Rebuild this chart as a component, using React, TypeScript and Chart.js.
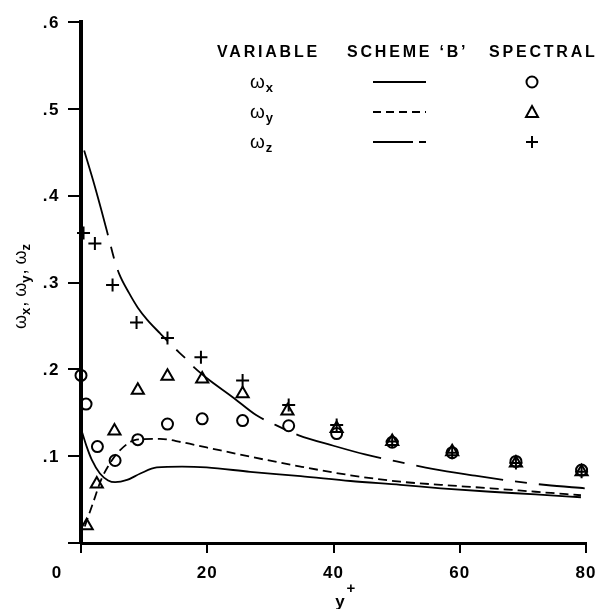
import React, { useEffect, useRef } from 'react';
import { Chart, registerables } from 'chart.js';
Chart.register(...registerables);

// ---- Data ----
const SCHEME_WX_YPLUS = [0.2, 0.9, 1.7, 3.0, 4.3, 5.4, 7.3, 9.4, 12.0, 16, 19.9, 26.8, 34.8, 42.7, 50.6, 57, 64.9, 72, 79.2];
const SCHEME_WX = [0.127, 0.111, 0.096, 0.080, 0.072, 0.070, 0.0726, 0.080, 0.087, 0.088, 0.087, 0.082, 0.077, 0.0714, 0.067, 0.063, 0.059, 0.056, 0.0527];

const SCHEME_WY_YPLUS = [0.6, 1.9, 3.2, 4.6, 6.2, 8.8, 12.5, 16, 19.9, 26.8, 34.8, 42.7, 50.6, 57, 64.9, 72, 79.2];
const SCHEME_WY = [0.019, 0.046, 0.073, 0.092, 0.107, 0.119, 0.120, 0.116, 0.110, 0.0994, 0.088, 0.078, 0.0706, 0.067, 0.063, 0.059, 0.055];

const SCHEME_WZ_YPLUS = [0.5, 1.9, 3.2, 4.4, 5.3, 6.1, 7.6, 9.0, 10.5, 12.5, 14.6, 16.5, 18.1, 19.9, 24.2, 27.8, 30.8, 34.5, 40, 45, 50, 55.9, 62, 69.7, 73.7, 79.8];
const SCHEME_WZ = [0.452, 0.418, 0.384, 0.351, 0.326, 0.309, 0.288, 0.271, 0.257, 0.2416, 0.226, 0.213, 0.201, 0.190, 0.167, 0.147, 0.136, 0.124, 0.112, 0.102, 0.094, 0.085, 0.078, 0.070, 0.0668, 0.063];

const SPECTRAL_WX_YPLUS = [0, 0.8, 2.6, 5.4, 9.0, 13.7, 19.2, 25.6, 32.9, 40.5, 49.3, 58.8, 68.9, 79.3];
const SPECTRAL_WX = [0.193, 0.160, 0.111, 0.095, 0.119, 0.137, 0.143, 0.141, 0.135, 0.126, 0.116, 0.104, 0.094, 0.084];

const SPECTRAL_WY_YPLUS = [0.9, 2.5, 5.3, 9.0, 13.7, 19.2, 25.6, 32.7, 40.5, 49.3, 58.8, 68.9, 79.3];
const SPECTRAL_WY = [0.020, 0.068, 0.129, 0.176, 0.192, 0.189, 0.172, 0.152, 0.132, 0.117, 0.105, 0.092, 0.082];

const SPECTRAL_WZ_YPLUS = [0.4, 2.2, 5.0, 8.8, 13.7, 19.0, 25.6, 32.9, 40.5, 49.3, 58.8, 68.9, 79.3];
const SPECTRAL_WZ = [0.357, 0.345, 0.297, 0.254, 0.236, 0.214, 0.187, 0.159, 0.136, 0.117, 0.104, 0.092, 0.082];

const X_TICKS = [0, 20, 40, 60, 80];
const X_TICK_LABELS = ['0', '20', '40', '60', '80'];
const Y_TICKS = [0.1, 0.2, 0.3, 0.4, 0.5, 0.6];
const Y_TICK_LABELS = ['.1', '.2', '.3', '.4', '.5', '.6'];
const LEGEND_HEADERS = ['VARIABLE', 'SCHEME \u2018B\u2019', 'SPECTRAL'];
const VAR_SUBSCRIPTS = ['x', 'y', 'z'];
const OMEGA = '\u03C9';
const X_TITLE = 'y';
const X_TITLE_SUP = '+';

const FONT = '"Liberation Sans", Arial, Helvetica, sans-serif';
const DASH_WY = [9, 5];
const DASH_WZ = [88, 12, 12, 12];

const pts = (xs: number[], ys: number[]) => xs.map((x, i) => ({ x, y: ys[i] }));

const textPlugin = {
  id: 'textPlugin',
  afterDraw(chart: any) {
    const { ctx, chartArea } = chart;
    const xs = chart.scales.x;
    const ys = chart.scales.y;
    ctx.save();
    ctx.fillStyle = '#000';
    ctx.strokeStyle = '#000';

    // y tick labels
    ctx.font = `bold 17px ${FONT}`;
    (ctx as any).letterSpacing = '1.5px';
    ctx.textAlign = 'right';
    ctx.textBaseline = 'middle';
    Y_TICKS.forEach((v, i) => {
      ctx.fillText(Y_TICK_LABELS[i], chartArea.left - 21, ys.getPixelForValue(v) + 1);
    });

    // x tick labels
    (ctx as any).letterSpacing = '1px';
    ctx.textAlign = 'center';
    ctx.textBaseline = 'alphabetic';
    X_TICKS.forEach((v, i) => {
      const px = xs.getPixelForValue(v) + (v === 0 ? -24 : 0);
      ctx.fillText(X_TICK_LABELS[i], px, chartArea.bottom + 35);
    });

    // x title
    (ctx as any).letterSpacing = '0px';
    ctx.font = `bold 17px ${FONT}`;
    ctx.fillText(X_TITLE, 340, 607);
    ctx.font = `bold 15px ${FONT}`;
    ctx.fillText(X_TITLE_SUP, 351, 593);

    // y title (rotated)
    ctx.save();
    ctx.translate(24, 286);
    ctx.rotate(-Math.PI / 2);
    const parts: { t: string; sub: boolean }[] = [];
    VAR_SUBSCRIPTS.forEach((s, i) => {
      parts.push({ t: OMEGA, sub: false });
      parts.push({ t: s, sub: true });
      if (i < VAR_SUBSCRIPTS.length - 1) parts.push({ t: ', ', sub: false });
    });
    const fMain = `18px ${FONT}`;
    const fSub = `bold 13px ${FONT}`;
    let total = 0;
    parts.forEach((p) => {
      ctx.font = p.sub ? fSub : fMain;
      total += ctx.measureText(p.t).width + (p.sub ? 1 : 0);
    });
    let cx = -total / 2;
    ctx.textAlign = 'left';
    parts.forEach((p) => {
      ctx.font = p.sub ? fSub : fMain;
      ctx.fillText(p.t, cx, p.sub ? 6 : 2);
      cx += ctx.measureText(p.t).width + (p.sub ? 1 : 0);
    });
    ctx.restore();

    // legend table
    ctx.font = `bold 16px ${FONT}`;
    (ctx as any).letterSpacing = '2.8px';
    ctx.textAlign = 'left';
    ctx.textBaseline = 'alphabetic';
    const headerX = [217, 347, 489];
    LEGEND_HEADERS.forEach((h, i) => ctx.fillText(h, headerX[i], 57));
    (ctx as any).letterSpacing = '0px';

    const rowY = [82, 112, 142];
    VAR_SUBSCRIPTS.forEach((s, i) => {
      const y = rowY[i];
      ctx.font = `19px ${FONT}`;
      ctx.fillText(OMEGA, 250, y + 6);
      const w = ctx.measureText(OMEGA).width;
      ctx.font = `bold 13px ${FONT}`;
      ctx.fillText(s, 250 + w + 1, y + 10);

      // line sample
      ctx.lineWidth = 1.8;
      ctx.beginPath();
      if (i === 0) ctx.setLineDash([]);
      else if (i === 1) ctx.setLineDash([8, 5]);
      else ctx.setLineDash([40, 6, 8, 100]);
      ctx.moveTo(373, y);
      ctx.lineTo(426, y);
      ctx.stroke();
      ctx.setLineDash([]);

      // marker sample
      const mx = 532;
      ctx.lineWidth = 2;
      ctx.beginPath();
      if (i === 0) {
        ctx.arc(mx, y, 5.5, 0, Math.PI * 2);
      } else if (i === 1) {
        ctx.moveTo(mx, y - 6);
        ctx.lineTo(mx + 6, y + 5);
        ctx.lineTo(mx - 6, y + 5);
        ctx.closePath();
      } else {
        ctx.moveTo(mx - 6, y);
        ctx.lineTo(mx + 6, y);
        ctx.moveTo(mx, y - 6);
        ctx.lineTo(mx, y + 6);
      }
      ctx.stroke();
    });

    ctx.restore();
  },
};

export default function App() {
  const canvasRef = useRef<HTMLCanvasElement | null>(null);

  useEffect(() => {
    const canvas = canvasRef.current;
    if (!canvas) return;
    const lineBase = {
      type: 'line' as const,
      borderColor: '#000',
      borderWidth: 1.8,
      pointRadius: 0,
      fill: false,
      cubicInterpolationMode: 'monotone' as const,
      clip: false as any,
    };
    const markBase = {
      type: 'line' as const,
      showLine: false,
      borderColor: '#000',
      backgroundColor: 'rgba(0,0,0,0)',
      pointBorderWidth: 2,
      pointBorderColor: '#000',
      pointBackgroundColor: 'rgba(0,0,0,0)',
      clip: false as any,
    };
    const chart = new Chart(canvas, {
      type: 'line',
      data: {
        datasets: [
          { ...lineBase, label: 'Scheme B ωx', data: pts(SCHEME_WX_YPLUS, SCHEME_WX) },
          { ...lineBase, label: 'Scheme B ωy', data: pts(SCHEME_WY_YPLUS, SCHEME_WY), borderDash: DASH_WY },
          { ...lineBase, label: 'Scheme B ωz', data: pts(SCHEME_WZ_YPLUS, SCHEME_WZ), borderDash: DASH_WZ },
          { ...markBase, label: 'Spectral ωx', data: pts(SPECTRAL_WX_YPLUS, SPECTRAL_WX), pointStyle: 'circle', pointRadius: 5.5 },
          { ...markBase, label: 'Spectral ωy', data: pts(SPECTRAL_WY_YPLUS, SPECTRAL_WY), pointStyle: 'triangle', pointRadius: 7 },
          { ...markBase, label: 'Spectral ωz', data: pts(SPECTRAL_WZ_YPLUS, SPECTRAL_WZ), pointStyle: 'cross', pointRadius: 6.5 },
        ] as any,
      },
      options: {
        animation: false,
        responsive: false,
        devicePixelRatio: 1,
        layout: { autoPadding: false, padding: { left: 68, right: 12, top: 22, bottom: 56 } } as any,
        plugins: { legend: { display: false }, tooltip: { enabled: false }, title: { display: false } },
        scales: {
          x: {
            type: 'linear',
            min: 0,
            max: 80,
            ticks: { display: false, stepSize: 20 },
            grid: { display: true, drawOnChartArea: false, drawTicks: true, tickLength: 10, color: '#000', lineWidth: 2 },
            border: { display: true, width: 3, color: '#000' },
            afterFit: (s: any) => { s.height = 10; },
          },
          y: {
            type: 'linear',
            min: 0,
            max: 0.6,
            ticks: { display: false, stepSize: 0.1 },
            grid: { display: true, drawOnChartArea: false, drawTicks: true, tickLength: 13, color: '#000', lineWidth: 2 },
            border: { display: true, width: 4, color: '#000' },
            afterFit: (s: any) => { s.width = 13; },
          },
        },
      },
      plugins: [textPlugin],
    });
    return () => chart.destroy();
  }, []);

  return (
    <div style={{ position: 'absolute', left: 0, top: 0, width: 598, height: 609, background: '#fff' }}>
      <canvas ref={canvasRef} width={598} height={609} style={{ display: 'block' }} />
    </div>
  );
}
